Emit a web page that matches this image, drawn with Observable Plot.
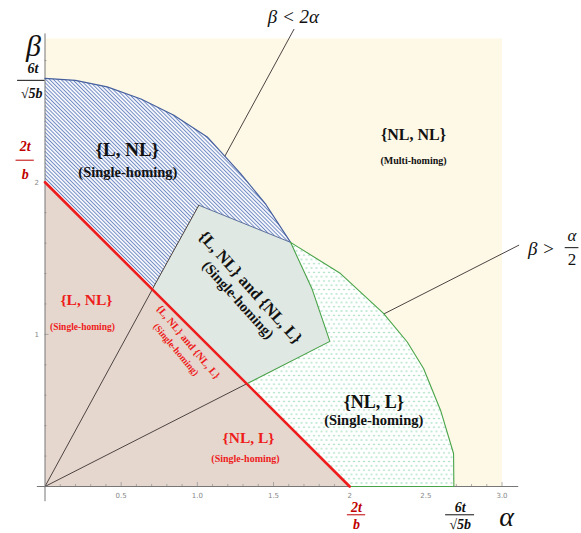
<!DOCTYPE html>
<html><head><meta charset="utf-8">
<script src="https://cdn.jsdelivr.net/npm/d3@7"></script>
<script src="https://cdn.jsdelivr.net/npm/@observablehq/plot@0.6"></script>
<style>html,body{margin:0;padding:0;background:#fff}#chart svg{display:block}</style>
</head><body><div id="chart"></div>
<script>
// ---- data (alpha, beta) ----
const brownTriangle = [[0,0],[2,0],[0,2],[0,0]];
const redLine = [[0,2],[2,0]];
const upperRay = [[0,0],[1.634,3.005]];
const lowerRay = [[0,0],[3.11,1.586]];
const blueArc = [[0,2.683],[0.2,2.67],[0.408,2.627],[0.63,2.547],[0.846,2.441],[1.065,2.298],[1.284,2.057],[1.45,1.854],[1.612,1.605]];
const greenArc = [[1.612,1.605],[1.94,1.40],[2.222,1.138],[2.378,0.95],[2.485,0.776],[2.597,0.5],[2.682,0.217],[2.684,0]];
const pentagon = [[0.704,1.296],[1.010,1.849],[1.612,1.605],[1.754,1.296],[1.870,0.954],[1.325,0.675]];
const xMajor = [0.5,1,1.5,2,2.5,3];
const xLabels = ["0.5","1.0","1.5","2","2.5","3.0"];
const xMinor = [0.1,0.2,0.3,0.4,0.6,0.7,0.8,0.9,1.1,1.2,1.3,1.4,1.6,1.7,1.8,1.9,2.1,2.2,2.3,2.4,2.6,2.7,2.8,2.9];
const yMajor = [1,2];
const yLabels = ["1","2"];
const yMinor = [0.2,0.4,0.6,0.8,1.2,1.4,1.6,1.8,2.2,2.4,2.6,2.8];

// ---- derived polygons ----
const [P1,P2,P3,PM,P4,P5] = pentagon;
const blueRegion = [[0,2],[0,2.683],...blueArc.slice(1),P2,P1,[0,2]];
const greenRegion = [...greenArc,[2,0],P5,P4,PM,P3];
const pentagonClosed = [...pentagon, P1];
const greenOutline = [P5,[2,0],...greenArc.slice().reverse(),PM,P4,P5];

const XY = {x: d => d[0], y: d => d[1]};
const serif = "Liberation Serif, Times New Roman, serif";

function defsMark() {
  const ns = "http://www.w3.org/2000/svg";
  const g = document.createElementNS(ns, "defs");
  g.innerHTML = `
  <pattern id="hatch" patternUnits="userSpaceOnUse" width="2.7" height="2.7" patternTransform="rotate(-45)">
    <rect width="2.7" height="2.7" fill="#f7f8fc"/>
    <line x1="0.5" y1="0" x2="0.5" y2="2.7" stroke="#5575b8" stroke-width="0.8"/>
  </pattern>
  <pattern id="dots" patternUnits="userSpaceOnUse" width="5" height="8.6">
    <rect width="5" height="8.6" fill="#ffffff"/>
    <circle cx="1" cy="1" r="0.75" fill="#6fcb96"/>
    <circle cx="3.5" cy="5.3" r="0.75" fill="#6fcb96"/>
  </pattern>`;
  return g;
}

function txt(s, x, y, o = {}) {
  return Plot.text([s], {x: () => x, y: () => y, text: d => d, fontFamily: serif, fontWeight: "bold", fill: "#111", ...o});
}

const chart = Plot.plot({
  width: 581, height: 533,
  marginLeft: 44.5, marginRight: 79.5, marginTop: 38, marginBottom: 47,
  x: {domain: [0, 3]}, y: {domain: [0, 2.945]},
  axis: null,
  style: {overflow: "visible", background: "#fff"},
  marks: [
    defsMark,
    Plot.frame({fill: "#fef8e6", stroke: null}),
    Plot.line(brownTriangle, {...XY, fill: "#e5d7ce", stroke: null}),
    // ticks
    Plot.ruleX(xMinor, {x: d => d, y1: 0, y2: 2/152, stroke: "#999", strokeWidth: 0.8}),
    Plot.ruleX(xMajor, {x: d => d, y1: 0, y2: 4/152, stroke: "#999", strokeWidth: 0.8}),
    Plot.ruleY(yMinor, {y: d => d, x1: 0, x2: 2/152, stroke: "#999", strokeWidth: 0.8}),
    Plot.ruleY(yMajor, {y: d => d, x1: 0, x2: 4/152, stroke: "#999", strokeWidth: 0.8}),
    // rays
    Plot.line(upperRay, {...XY, stroke: "#4d4343", strokeWidth: 1}),
    Plot.line(lowerRay, {...XY, stroke: "#4d4343", strokeWidth: 1}),
    // regions
    Plot.line(blueRegion, {...XY, fill: "url(#hatch)", stroke: null}),
    Plot.line(greenRegion, {...XY, fill: "url(#dots)", stroke: null}),
    Plot.line(pentagonClosed, {...XY, fill: "#dfe8e2", stroke: null}),
    // axes lines
    Plot.ruleY([0], {x1: -0.05, x2: 3.11, stroke: "#777", strokeWidth: 1}),
    Plot.ruleX([0], {y1: -0.1, y2: 2.975, stroke: "#777", strokeWidth: 1}),
    // outlines
    Plot.line(blueArc, {...XY, stroke: "#46609e", strokeWidth: 1.2}),
    Plot.line([P2, P3], {...XY, stroke: "#5b6f9c", strokeWidth: 1}),
    Plot.line([P1, P2], {...XY, stroke: "#4d4343", strokeWidth: 1}),
    Plot.line(greenOutline, {...XY, stroke: "#49a449", strokeWidth: 1.1}),
    Plot.line(redLine, {...XY, stroke: "#ee1c1c", strokeWidth: 2.6}),
    // tick labels
    Plot.text(xMajor, {x: d => d, y: 0, text: (d, i) => xLabels[i], dy: 9, fontSize: 7, fill: "#888", fontFamily: "DejaVu Sans"}),
    Plot.text(yMajor, {x: 0, y: d => d, text: (d, i) => yLabels[i], dx: -6, textAnchor: "end", fontSize: 7, fill: "#888", fontFamily: "DejaVu Sans"}),
    // axis names
    txt("β", -0.075, 2.89, {fontStyle: "italic", fontWeight: "normal", fontSize: 30}),
    txt("α", 3.03, -0.2, {fontStyle: "italic", fontWeight: "normal", fontSize: 28}),
    // 6t / sqrt5 b on y axis
    txt("6t", -0.08, 2.745, {fontSize: 14, fontStyle: "italic"}),
    Plot.ruleY([2.67], {x1: -0.18, x2: 0.0, stroke: "#111", strokeWidth: 1}),
    txt("√5b", -0.088, 2.585, {fontSize: 14, fontStyle: "italic"}),
    // 2t / b on y axis (red)
    txt("2t", -0.13, 2.235, {fontSize: 14, fontStyle: "italic", fill: "#c00000"}),
    Plot.ruleY([2.145], {x1: -0.19, x2: -0.07, stroke: "#c00000", strokeWidth: 1}),
    txt("b", -0.13, 2.05, {fontSize: 14, fontStyle: "italic", fill: "#c00000"}),
    // 2t / b on x axis (red)
    txt("2t", 2.045, -0.135, {fontSize: 14, fontStyle: "italic", fill: "#c00000"}),
    Plot.ruleY([-0.186], {x1: 1.985, x2: 2.105, stroke: "#c00000", strokeWidth: 1}),
    txt("b", 2.045, -0.25, {fontSize: 14, fontStyle: "italic", fill: "#c00000"}),
    // 6t / sqrt5 b on x axis
    txt("6t", 2.725, -0.135, {fontSize: 14, fontStyle: "italic"}),
    Plot.ruleY([-0.186], {x1: 2.63, x2: 2.82, stroke: "#111", strokeWidth: 1}),
    txt("√5b", 2.725, -0.25, {fontSize: 14, fontStyle: "italic"}),
    // ray labels
    txt("β < 2α", 1.63, 3.085, {fontStyle: "italic", fontWeight: "normal", fontSize: 19}),
    txt("β >", 3.17, 1.56, {fontStyle: "italic", fontWeight: "normal", fontSize: 19, textAnchor: "start"}),
    txt("α", 3.46, 1.65, {fontStyle: "italic", fontWeight: "normal", fontSize: 17}),
    Plot.ruleY([1.57], {x1: 3.415, x2: 3.505, stroke: "#111", strokeWidth: 1}),
    txt("2", 3.46, 1.49, {fontStyle: "normal", fontWeight: "normal", fontSize: 17}),
    // region labels
    txt("{NL, NL}", 2.419, 2.309, {fontSize: 16}),
    txt("(Multi-homing)", 2.419, 2.138, {fontSize: 10}),
    txt("{L, NL}", 0.54, 2.21, {fontSize: 19}),
    txt("(Single-homing)", 0.544, 2.067, {fontSize: 14.5}),
    txt("{L, NL} and {NL, L}", 1.349, 1.309, {fontSize: 16.5, rotate: 48}),
    txt("(Single-homing)", 1.267, 1.227, {fontSize: 14.5, rotate: 48}),
    txt("{NL, L}", 2.158, 0.554, {fontSize: 18}),
    txt("(Single-homing)", 2.158, 0.434, {fontSize: 14.5}),
    txt("{L, NL}", 0.272, 1.223, {fontSize: 15.5, fill: "#ee1c1c"}),
    txt("(Single-homing)", 0.246, 1.05, {fontSize: 9.5, fill: "#ee1c1c"}),
    txt("{L, NL} and {NL, L}", 0.94, 0.95, {fontSize: 10.5, rotate: 50, fill: "#ee1c1c"}),
    txt("(Single-homing)", 0.86, 0.9, {fontSize: 9.5, rotate: 50, fill: "#ee1c1c"}),
    txt("{NL, L}", 1.336, 0.316, {fontSize: 15.5, fill: "#ee1c1c"}),
    txt("(Single-homing)", 1.316, 0.184, {fontSize: 10, fill: "#ee1c1c"})
  ]
});
document.getElementById("chart").appendChild(chart);
</script>
</body></html>
